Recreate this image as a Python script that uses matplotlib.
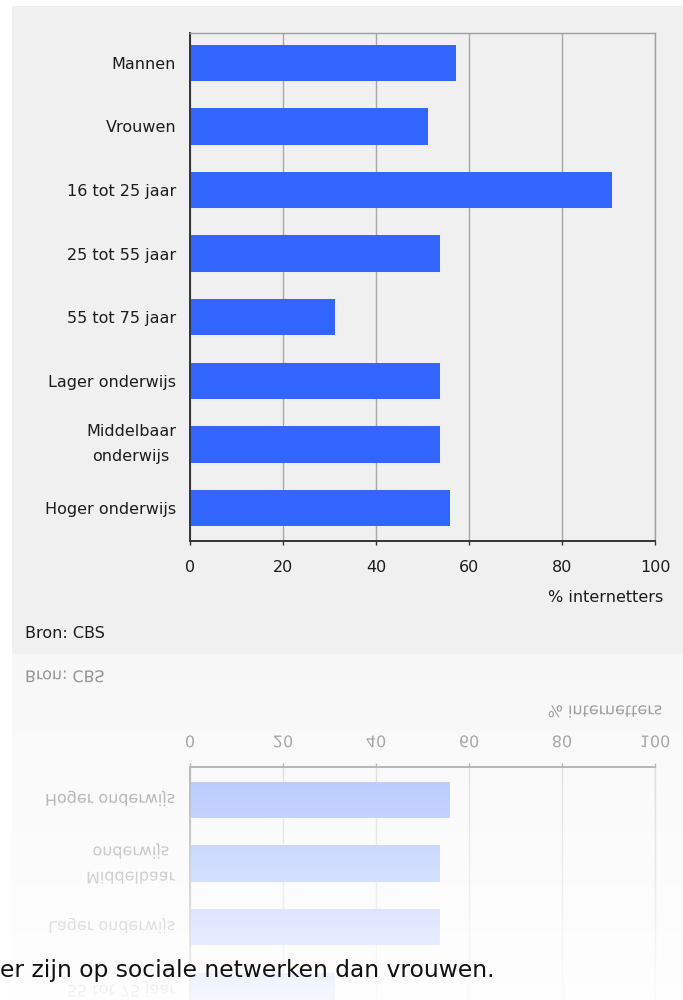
import numpy as np
import matplotlib
matplotlib.use('Agg')
import matplotlib.pyplot as plt
from matplotlib.patches import Rectangle, PathPatch
from matplotlib.textpath import TextPath
from matplotlib.transforms import Affine2D

# data -----------------------------------------------------------------------
categories = ['Mannen', 'Vrouwen', '16 tot 25 jaar', '25 tot 55 jaar',
              '55 tot 75 jaar', 'Lager onderwijs', 'Middelbaar\nonderwijs',
              'Hoger onderwijs']
values = [57.3, 51.2, 90.7, 53.7, 31.1, 53.7, 53.7, 55.9]
x_ticks = [0, 20, 40, 60, 80, 100]
x_label = '% internetters'
source = 'Bron: CBS'
caption = 'er zijn op sociale netwerken dan vrouwen.'

# layout (pixels) ------------------------------------------------------------
W, H, DPI = 683, 1000, 100
MIRROR = 654            # row where the reflection starts
LEFT, RIGHT, TOP, BOTTOM = 190, 655, 33, 541
blue = '#3366ff'
panel = '#f0f0f0'
ink = '#1c1c1c'
fs = 11.5

plt.rcParams['font.family'] = 'DejaVu Sans'


def fy(py):
    return 1 - py / H


fig = plt.figure(figsize=(W / DPI, H / DPI), dpi=DPI)
fig.patch.set_facecolor('white')

# grey panel, continues into the reflection
fig.add_artist(Rectangle((12 / W, 0), 1, fy(6), transform=fig.transFigure,
                         color=panel, lw=0, zorder=-2))

ax = fig.add_axes([LEFT / W, fy(BOTTOM), (RIGHT - LEFT) / W, (BOTTOM - TOP) / H])
ax2 = fig.add_axes([LEFT / W, fy(2 * MIRROR - TOP), (RIGHT - LEFT) / W, (BOTTOM - TOP) / H])


def draw_bars(a, flip):
    ypos = np.arange(len(categories))
    a.barh(ypos, values, height=0.575, color=blue, zorder=2)
    a.set_xlim(0, 100)
    a.set_xticks(x_ticks)
    a.set_yticks(ypos)
    if flip:
        a.set_ylim(-0.47, 7.52)
    else:
        a.set_ylim(7.52, -0.47)
    a.set_facecolor('none')
    a.grid(axis='x', color='#a8a8a8', lw=1)
    a.set_axisbelow(True)
    base = 'top' if flip else 'bottom'
    edge = 'bottom' if flip else 'top'
    for s in ['left', base]:
        a.spines[s].set_color('#333333')
        a.spines[s].set_linewidth(1.4)
    for s in ['right', edge]:
        a.spines[s].set_color('#a0a0a0')
        a.spines[s].set_linewidth(1)


draw_bars(ax, False)
ax.tick_params(axis='x', direction='out', length=3, width=1, color='#333333',
               labelsize=fs, labelcolor=ink, pad=11)
ax.tick_params(axis='y', length=0, pad=10, labelsize=fs, labelcolor=ink)
ax.set_yticklabels(categories, multialignment='center', linespacing=1.85)
for lbl in ax.get_yticklabels():
    if '\n' in lbl.get_text():
        lbl.set_verticalalignment('center')

draw_bars(ax2, True)
ax2.tick_params(axis='x', top=True, bottom=False, labeltop=False, labelbottom=False,
                direction='out', length=3, width=1, color='#333333')
ax2.tick_params(axis='y', length=0, labelleft=False)

t_label = fig.text(663 / W, fy(598), x_label, ha='right', va='center',
                   fontsize=fs, color=ink)
t_src = fig.text(25 / W, fy(633), source, ha='left', va='center',
                 fontsize=fs, color=ink)

# mirrored copies of the labels, as glyph outlines flipped upside down
fig.canvas.draw()
r = fig.canvas.get_renderer()
texts = list(ax.get_yticklabels()) + list(ax.get_xticklabels()) + [t_label, t_src]
for t in texts:
    s = t.get_text()
    if not s:
        continue
    prop = t.get_fontproperties()
    bb = t.get_window_extent(r)
    lines = s.split('\n')
    n = len(lines)
    _, lh, ld = r.get_text_width_height_descent('lp', prop, ismath=False)
    pitch = (bb.height - lh) / (n - 1) if n > 1 else 0
    size_px = prop.get_size_in_points() * DPI / 72
    for i, line in enumerate(lines):
        w, h, d = r.get_text_width_height_descent(line, prop, ismath=False)
        yb = bb.y0 + max(d, ld) + (n - 1 - i) * pitch
        x0 = bb.x0 + (bb.width - w) / 2
        path = TextPath((0, 0), line, size=size_px, prop=prop)
        tr = Affine2D().scale(1, -1).translate(x0, 2 * (H - MIRROR) - yb)
        fig.add_artist(PathPatch(path, transform=tr, color=ink, lw=0, zorder=2))

# white fade over the reflection
axf = fig.add_axes([0, 0, 1, fy(MIRROR)])
axf.set_zorder(3)
axf.axis('off')
rows = np.arange(MIRROR, H) + 0.5
vis = np.clip(0.5 * (1 - (rows - MIRROR) / 376), 0, 1)
grad = np.ones((len(rows), 1, 4))
grad[:, 0, 3] = 1 - vis
axf.imshow(grad, aspect='auto', extent=[0, 1, 0, 1], interpolation='nearest')
axf.set_xlim(0, 1)
axf.set_ylim(0, 1)

fig.text(0, fy(977), caption, ha='left', va='baseline', fontsize=16.8,
         color='#111111', zorder=4)

fig.savefig('out.png', dpi=DPI)
